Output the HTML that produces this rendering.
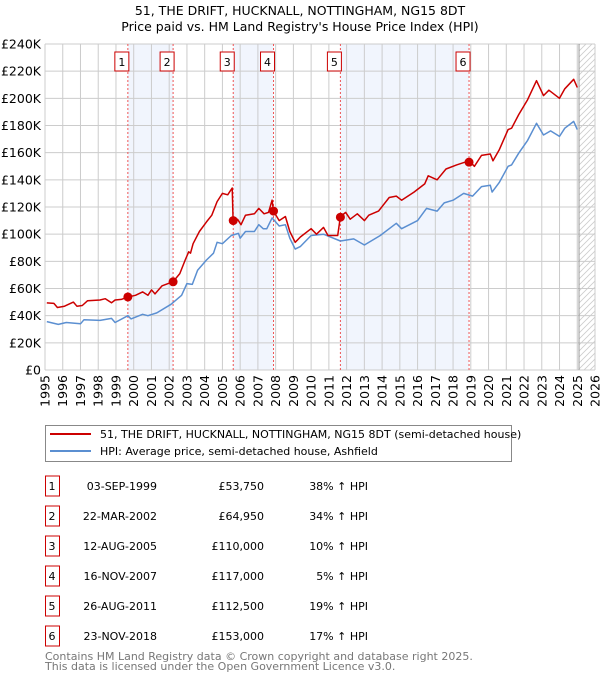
<!DOCTYPE html>
<html><head><meta charset="utf-8"><style>
body{margin:0;background:#fff;font-family:"DejaVu Sans","Liberation Sans",sans-serif;}
#wrap{position:relative;width:600px;height:680px;overflow:hidden}
svg text{font-family:"DejaVu Sans","Liberation Sans",sans-serif}
</style></head><body>
<div id="wrap">
<svg id="chart" width="600" height="680"></svg>
</div>
<script>
const yTicks=[0,20,40,60,80,100,120,140,160,180,200,220,240];
const yearTicks=[1995,1996,1997,1998,1999,2000,2001,2002,2003,2004,2005,2006,2007,2008,2009,2010,2011,2012,2013,2014,2015,2016,2017,2018,2019,2020,2021,2022,2023,2024,2025,2026];
const saleLabels=["1","2","3","4","5","6"];
const saleYears=[1999.67,2002.22,2005.61,2007.88,2011.65,2018.9];
const salePrices=[53.75,64.95,110,117,112.5,153];
const saleDates=["03-SEP-1999","22-MAR-2002","12-AUG-2005","16-NOV-2007","26-AUG-2011","23-NOV-2018"];
const salePriceText=["£53,750","£64,950","£110,000","£117,000","£112,500","£153,000"];
const saleHpiText=["38% ↑ HPI","34% ↑ HPI","10% ↑ HPI","5% ↑ HPI","19% ↑ HPI","17% ↑ HPI"];
const redYears=[1995.1,1995.5,1995.7,1996.1,1996.6,1996.8,1997.1,1997.4,1998.1,1998.4,1998.75,1998.95,1999.3,1999.67,2000.1,2000.5,2000.8,2001.0,2001.2,2001.6,2002.22,2002.6,2002.9,2003.1,2003.2,2003.35,2003.7,2004.1,2004.4,2004.7,2005.0,2005.3,2005.55,2005.6,2005.85,2006.05,2006.3,2006.8,2007.05,2007.35,2007.6,2007.8,2007.88,2008.2,2008.55,2008.8,2009.1,2009.4,2010.0,2010.3,2010.7,2010.95,2011.5,2011.65,2011.95,2012.2,2012.6,2013.0,2013.25,2013.8,2014.4,2014.8,2015.1,2015.8,2016.4,2016.6,2017.1,2017.6,2018.2,2018.9,2019.2,2019.6,2020.1,2020.25,2020.6,2021.1,2021.3,2021.7,2022.2,2022.7,2023.1,2023.4,2024.0,2024.3,2024.8,2025.0];
const redValues=[49.4,49,46,47,50,47,47.5,51,51.5,52.5,49.5,51.5,52,53.75,55,57.5,55,59,56,62,65,71,81,87,86,93,102,109,114,124,130,129,134,110,111,107,114,115,119,115,116,125,117,110,113,102,94,98,104,100,105,99,99,112.9,116,111,115,110,114,117,127,128,125,131,137,143,140,148,151,154,150,158,159,154,162,177,178,188,199,213,202,206,200,207,214,208];
const blueYears=[1995.1,1995.75,1996.2,1997.0,1997.2,1998.1,1998.75,1998.95,1999.67,1999.85,2000.5,2000.8,2001.3,2002.1,2002.7,2003.0,2003.3,2003.6,2004.1,2004.5,2004.7,2005.0,2005.5,2005.9,2006.0,2006.3,2006.8,2007.05,2007.3,2007.5,2007.8,2008.2,2008.55,2008.8,2009.1,2009.4,2010.0,2010.7,2011.65,2012.4,2013.0,2013.9,2014.8,2015.1,2016.0,2016.5,2017.1,2017.5,2018.0,2018.6,2019.1,2019.6,2020.1,2020.2,2020.6,2021.1,2021.3,2021.7,2022.2,2022.7,2023.1,2023.5,2024.0,2024.3,2024.8,2025.0];
const blueValues=[35.6,33.6,35,34,37,36.5,38,35,40,37.6,41,40,42,48.4,55,63.6,63,73.5,81,86,94,93,99,100.6,97,102,102,107,104,104,112,106,107,97,89,91,99,100,95,96.5,92,99,108,104,110,119,117,123,125,130,128,135,136,131,138,150,151,159.6,169,181.6,173,176,172,178,183,177];

const L=45,R=595,T=44,B=370,X0=1995,X1=2026,YMAX=240;
const xs=v=>L+(v-X0)/(X1-X0)*(R-L);
const ys=v=>B-v/YMAX*(B-T);
const svg=document.getElementById('chart');
const NS='http://www.w3.org/2000/svg';
function mk(tag,attrs,parent){const e=document.createElementNS(NS,tag);for(const k in attrs)e.setAttribute(k,attrs[k]);(parent||svg).appendChild(e);return e;}

// title
let t=mk('text',{x:300,y:15,'text-anchor':'middle','font-size':'12.5',fill:'#000'});t.textContent='51, THE DRIFT, HUCKNALL, NOTTINGHAM, NG15 8DT';

t=mk('text',{x:300,y:31,'text-anchor':'middle','font-size':'12.5',fill:'#000'});t.textContent="Price paid vs. HM Land Registry's House Price Index (HPI)";


// shaded ownership spans
const spans=[[0,1],[2,3],[4,5]];
spans.forEach((s,i)=>{const r=mk('rect',{x:xs(saleYears[s[0]]),y:T,width:xs(saleYears[s[1]])-xs(saleYears[s[0]]),height:B-T,fill:'#eef3fc',opacity:0.8});
});

// hatch future
const defs=mk('defs',{});
const pat=mk('pattern',{id:'hatch',width:6,height:6,patternUnits:'userSpaceOnUse'},defs);
mk('path',{d:'M0,6 L6,0 M-1,1 L1,-1 M5,7 L7,5',stroke:'#ccc','stroke-width':0.8},pat);
const hx=xs(2025.1);
let hr=mk('rect',{x:hx,y:T,width:R-hx,height:B-T,fill:'url(#hatch)'});


// grid
yTicks.forEach(v=>{const g=mk('line',{x1:L,x2:R,y1:ys(v),y2:ys(v),stroke:'#ccc','stroke-width':1});

const lb=mk('text',{x:L-4,y:ys(v)+4.5,'text-anchor':'end','font-size':'12.5',fill:'#000'});lb.textContent=v===0?'£0':'£'+v+'K';
});
yearTicks.forEach(v=>{const g=mk('line',{x1:xs(v),x2:xs(v),y1:T,y2:B,stroke:'#ccc','stroke-width':1});

const lb=mk('text',{x:0,y:0,'text-anchor':'end','font-size':'12.5',fill:'#000',transform:`translate(${xs(v)+4.5},${B+5}) rotate(-90)`});lb.textContent=v;
});
let fl=mk('line',{x1:xs(2025.1),x2:xs(2025.1),y1:T,y2:B,stroke:'#999','stroke-width':1});


// sale vlines and labels
saleYears.forEach((y,i)=>{const l=mk('line',{x1:xs(y),x2:xs(y),y1:T,y2:B,stroke:'#e55','stroke-width':1,'stroke-dasharray':'2,2'});

const bx=mk('rect',{x:xs(y)-7-6,y:52,width:14,height:19,fill:'#fff',stroke:'#c00','stroke-width':1});

const tx=mk('text',{x:xs(y)-6,y:66,'text-anchor':'middle','font-size':'11',fill:'#000'});tx.textContent=saleLabels[i];
});

function path(xv,yv,col,name){const d=xv.map((x,i)=>(i?'L':'M')+xs(x).toFixed(1)+','+ys(yv[i]).toFixed(1)).join(' ');
const p=mk('path',{d,fill:'none',stroke:col,'stroke-width':1.5,'stroke-linejoin':'round'});
}
path(blueYears,blueValues,'#5b8fd1','hpi-line');
path(redYears,redValues,'#cc0000','price-paid-line');
saleYears.forEach((y,i)=>{const c=mk('circle',{cx:xs(y),cy:ys(salePrices[i]),r:4.5,fill:'#cc0000'});
});

// legend
let lg=mk('rect',{x:45.5,y:425.5,width:466,height:36,fill:'#fff',stroke:'#888','stroke-width':1});

let ll=mk('line',{x1:50,x2:91,y1:434,y2:434,stroke:'#cc0000','stroke-width':2});
ll=mk('line',{x1:50,x2:91,y1:451,y2:451,stroke:'#5b8fd1','stroke-width':2});
let lt=mk('text',{x:100,y:438,'font-size':'11',fill:'#000'});lt.textContent='51, THE DRIFT, HUCKNALL, NOTTINGHAM, NG15 8DT (semi-detached house)';

lt=mk('text',{x:100,y:455,'font-size':'11',fill:'#000'});lt.textContent='HPI: Average price, semi-detached house, Ashfield';


// table
saleLabels.forEach((s,i)=>{const cy=486+30*i;
const b=mk('rect',{x:45.5,y:cy-10,width:14,height:20,fill:'#fff',stroke:'#c00','stroke-width':1});

const cells=[[52,'middle',s,'table-row-number'],[157,'end',saleDates[i],'table-row-date'],[264,'end',salePriceText[i],'table-row-price'],[368,'end',saleHpiText[i],'table-row-hpi']];
cells.forEach(c=>{const e=mk('text',{x:c[0],y:cy+4,'text-anchor':c[1],'font-size':'11',fill:'#000'});e.textContent=c[2];
});});

let f=mk('text',{x:45,y:660,'font-size':'11',fill:'#777'});f.textContent='Contains HM Land Registry data © Crown copyright and database right 2025.';

f=mk('text',{x:45,y:670,'font-size':'11',fill:'#777'});f.textContent='This data is licensed under the Open Government Licence v3.0.';

</script>
</body></html>
